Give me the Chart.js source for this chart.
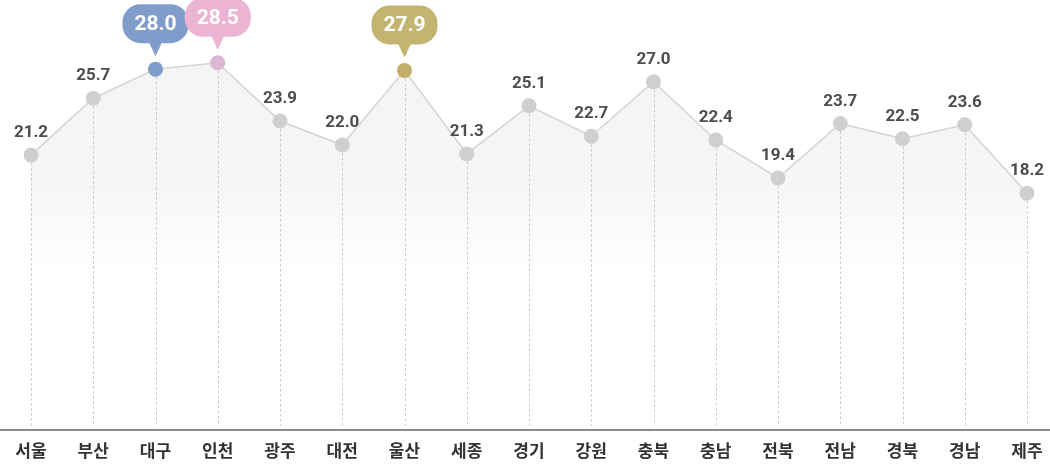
<!DOCTYPE html>
<html><head><meta charset="utf-8">
<script src="https://cdn.jsdelivr.net/npm/chart.js@4.4.1/dist/chart.umd.min.js"></script>
<style>html,body{margin:0;padding:0;background:#fff}#wrap{width:1050px;height:470px;position:relative}</style>
</head><body><div id="wrap"><canvas id="c"></canvas></div>
<script>
const categories = ['서울','부산','대구','인천','광주','대전','울산','세종','경기','강원','충북','충남','전북','전남','경북','경남','제주'];
const values = [21.2,25.7,28.0,28.5,23.9,22.0,27.9,21.3,25.1,22.7,27.0,22.4,19.4,23.7,22.5,23.6,18.2];
const highlights = {2:'#7f9ccb',3:'#ebb4d3',6:'#c4b472'};
const highlightPoints = {2:'#7f9ccb',3:'#dcb4d4',6:'#c2ae68'};

const numFont = '"Roboto", "Noto Sans", sans-serif';
const decor = {
  id:'decor',
  afterDatasetsDraw(chart){
    const {ctx, chartArea} = chart;
    const meta = chart.getDatasetMeta(0);
    ctx.save();
    ctx.strokeStyle = '#c8c8c8'; ctx.lineWidth = 1; ctx.setLineDash([2.5,2.5]);
    meta.data.forEach(p=>{
      ctx.beginPath(); ctx.moveTo(Math.round(p.x)+0.5, p.y+8); ctx.lineTo(Math.round(p.x)+0.5, chartArea.bottom); ctx.stroke();
    });
    ctx.setLineDash([]);
    // axis line
    ctx.strokeStyle = '#666'; ctx.lineWidth = 1.5;
    ctx.beginPath(); ctx.moveTo(0, 430); ctx.lineTo(1050, 430); ctx.stroke();
    meta.data.forEach((p,i)=>{
      const txt = values[i].toFixed(1);
      if (highlights[i]) {
        const w = 66, h = 39, r = 18;
        const x0 = p.x - w/2, yb = p.y - 26, y0 = yb - h;
        ctx.fillStyle = highlights[i];
        ctx.beginPath();
        ctx.roundRect(x0, y0, w, h, r);
        ctx.fill();
        ctx.beginPath();
        ctx.moveTo(p.x-7, yb-2); ctx.lineTo(p.x+7, yb-2); ctx.lineTo(p.x, p.y-13); ctx.closePath(); ctx.fill();
        ctx.fillStyle = '#fff';
        ctx.font = 'bold 21px ' + numFont;
        ctx.textAlign='center'; ctx.textBaseline='middle';
        ctx.fillText(txt, p.x, y0 + h/2 + 1);
      } else {
        ctx.fillStyle = '#4d4d4d';
        ctx.font = 'bold 17px ' + numFont;
        ctx.textAlign='center'; ctx.textBaseline='middle';
        ctx.fillText(txt, p.x, p.y - 22);
      }
    });
    ctx.restore();
  }
};

new Chart(document.getElementById('c'), {
  type:'line',
  data:{labels:categories, datasets:[{
    data:values,
    borderColor:'#d3d3d3', borderWidth:1.5, tension:0,
    pointRadius:7.5, pointHoverRadius:7.5, pointBorderWidth:0,
    pointBackgroundColor: values.map((v,i)=>highlightPoints[i]||'#cfcfcf'),
    fill:'origin',
    backgroundColor:(ctx)=>{
      const ca = ctx.chart.chartArea; if(!ca) return '#f4f5f5';
      const g = ctx.chart.ctx.createLinearGradient(0, 60, 0, 275);
      g.addColorStop(0,'#f3f4f4'); g.addColorStop(0.6,'#f5f6f6'); g.addColorStop(1,'rgba(255,255,255,1)');
      return g;
    }
  }]},
  options:{
    responsive:true, maintainAspectRatio:false, animation:false,
    layout:{padding:{left:31, right:23, top:0, bottom:2}},
    plugins:{legend:{display:false}, tooltip:{enabled:false}},
    scales:{
      x:{offset:false, grid:{display:false}, border:{display:false},
        ticks:{color:'#333', font:{family:'"Noto Sans CJK KR", sans-serif', size:17, weight:'bold'}, padding:7, maxRotation:0, autoSkip:false}},
      y:{display:false, min:-0.17, max:32.87}
    }
  },
  plugins:[decor]
});
</script></body></html>
